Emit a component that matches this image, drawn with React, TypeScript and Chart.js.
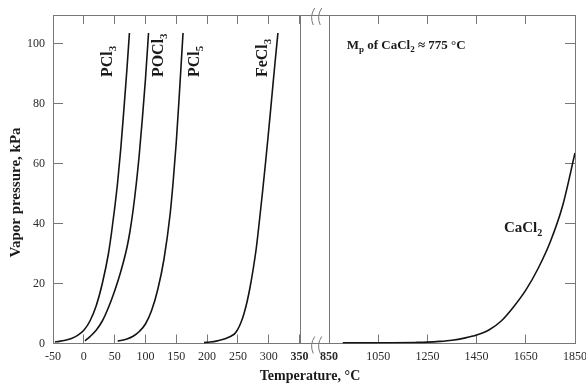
import { useEffect, useRef } from 'react';
import { Chart, registerables } from 'chart.js';

Chart.register(...registerables);

// ---- data (temperature °C, vapor pressure kPa) ----
const PCL3_T = [-47, -40, -30, -20, -10, 0, 10, 20, 30, 40, 45, 50, 55, 60, 65, 70, 74];
const PCL3_P = [0.5, 0.7, 1.1, 1.7, 2.7, 4.4, 7.5, 12.5, 20, 30, 37, 45, 54, 65, 78, 91.5, 103.5];

const POCL3_T = [2, 10, 20, 30, 40, 50, 60, 70, 75, 80, 85, 90, 95, 100, 105];
const POCL3_P = [0.9, 2.3, 4.4, 7.5, 12, 17.5, 24, 32, 37.5, 44.5, 53, 63, 75, 88, 103.5];

const PCL5_T = [55, 70, 80, 90, 100, 110, 120, 130, 140, 145, 150, 155, 161];
const PCL5_P = [0.8, 1.5, 2.4, 4, 6.5, 11, 18, 28, 43, 54, 67, 83, 103.5];

const FECL3_T = [195, 205, 215, 225, 235, 240, 245, 250, 255, 260, 265, 270, 275, 280, 285, 290, 295, 300, 305, 310, 315];
const FECL3_P = [0.3, 0.5, 0.8, 1.3, 2.1, 2.6, 3.3, 4.8, 7.0, 10, 14, 19, 25, 32, 41, 50.5, 60.5, 71, 82, 93, 103.5];

const CACL2_T = [906, 1000, 1100, 1200, 1250, 1300, 1350, 1400, 1450, 1500, 1550, 1600, 1650, 1700, 1750, 1800, 1850];
const CACL2_P = [0.2, 0.2, 0.25, 0.35, 0.45, 0.7, 1.1, 1.8, 2.8, 4.5, 7.5, 12.2, 17.8, 25, 34, 46, 63.5];

// axis ranges / ticks
const LEFT_RANGE = [-50, 350];
const LEFT_STEP = 50;
const RIGHT_RANGE = [850, 1850];
const RIGHT_STEP = 200;
const Y_RANGE = [0, 109.5];
const Y_STEP = 20;

const X_TITLE = 'Temperature, °C';
const Y_TITLE = 'Vapor pressure, kPa';

const SERIF = '"Liberation Serif", "Times New Roman", serif';
const AX = '#7a7672';
const INK = '#1a1a1a';

type Part = [string, boolean];

function drawRich(ctx: CanvasRenderingContext2D, parts: Part[], x: number, y: number, size: number, subSize: number, subDrop: number) {
  let cx = x;
  ctx.textAlign = 'left';
  ctx.textBaseline = 'alphabetic';
  for (const [t, sub] of parts) {
    ctx.font = `bold ${sub ? subSize : size}px ${SERIF}`;
    ctx.fillText(t, cx, sub ? y + subDrop : y);
    cx += ctx.measureText(t).width;
  }
}

const noPad = (s: any) => {
  s.paddingLeft = 0;
  s.paddingRight = 0;
  s.paddingTop = 0;
  s.paddingBottom = 0;
};

export default function App() {
  const ref = useRef<HTMLCanvasElement>(null);

  useEffect(() => {
    if (!ref.current) return;
    const toXY = (t: number[], p: number[]) => t.map((x, i) => ({ x, y: p[i] }));
    const line = (data: any[], xAxisID: string) => ({
      data,
      xAxisID,
      yAxisID: 'y',
      borderColor: '#141414',
      borderWidth: 1.6,
      pointRadius: 0,
      fill: false,
      cubicInterpolationMode: 'monotone' as const,
    });

    const tickFont = (boldVal: number) => (c: any) => ({
      family: SERIF,
      size: 12,
      weight: c.tick && c.tick.value === boldVal ? 'bold' : 'normal',
    });

    const xAxis = (range: number[], step: number, position: string, stackWeight: number, order: number, labels: boolean, boldVal: number) => ({
      type: 'linear',
      position,
      min: range[0],
      max: range[1],
      stack: position === 'bottom' ? 'sb' : 'st',
      stackWeight,
      weight: order,
      ticks: {
        display: labels,
        stepSize: step,
        autoSkip: false,
        maxRotation: 0,
        minRotation: 0,
        includeBounds: false,
        padding: 15,
        color: '#2a2a2a',
        font: tickFont(boldVal),
        callback: (v: any) => String(v),
      },
      grid: { drawOnChartArea: false, color: AX, tickLength: -9, lineWidth: 1 },
      border: { display: true, color: AX, width: 1 },
      afterFit: (s: any) => { s.height = position === 'bottom' ? 40.5 : 15; noPad(s); },
    });

    const gapAxis = (position: string, order: number) => ({
      type: 'linear',
      position,
      min: 0,
      max: 1,
      display: true,
      stack: position === 'bottom' ? 'sb' : 'st',
      stackWeight: 29.5,
      weight: order,
      ticks: { display: false },
      grid: { display: false, drawTicks: false },
      border: { display: true, color: AX, width: 1 },
      afterFit: (s: any) => { s.height = position === 'bottom' ? 40.5 : 15; noPad(s); },
    });

    const labelsPlugin = {
      id: 'annot',
      afterDraw(chart: any) {
        const { ctx, chartArea, scales } = chart;
        const xL = scales.xL, xR = scales.xR, y = scales.y;
        ctx.save();
        // inner panel borders
        ctx.strokeStyle = AX;
        ctx.lineWidth = 1;
        ctx.beginPath();
        const a = Math.round(xL.right) + 0.5;
        const b = Math.round(xR.left) + 0.5;
        ctx.moveTo(a, chartArea.top); ctx.lineTo(a, chartArea.bottom);
        ctx.moveTo(b, chartArea.top); ctx.lineTo(b, chartArea.bottom);
        ctx.stroke();

        // break marks
        const gx = (xL.right + xR.left) / 2 + 2;
        const brk = (cy: number) => {
          for (const dx of [-3.5, 3.5]) {
            ctx.beginPath();
            ctx.moveTo(gx + dx + 2, cy - 8);
            ctx.quadraticCurveTo(gx + dx - 3.5, cy, gx + dx + 0.5, cy + 9);
            ctx.stroke();
          }
        };
        brk(chartArea.top + 1);
        brk(chartArea.bottom + 1);

        ctx.fillStyle = INK;
        // axis titles
        ctx.font = `bold 15px ${SERIF}`;
        ctx.save();
        ctx.translate(16, 192.5);
        ctx.rotate(-Math.PI / 2);
        ctx.textAlign = 'center';
        ctx.textBaseline = 'middle';
        ctx.fillText(Y_TITLE, 0, 0);
        ctx.restore();

        ctx.font = `bold 14px ${SERIF}`;
        ctx.textAlign = 'center';
        ctx.textBaseline = 'alphabetic';
        ctx.fillText(X_TITLE, 310, 380);

        // rotated compound labels (anchored in data coordinates)
        const rot: [Part[], number][] = [
          [[['PCl', false], ['3', true]], 46.5],
          [[['POCl', false], ['3', true]], 127.7],
          [[['PCl', false], ['5', true]], 186.9],
          [[['FeCl', false], ['3', true]], 298],
        ];
        const py = y.getPixelForValue(88.8);
        for (const [parts, t] of rot) {
          const px = xL.getPixelForValue(t);
          ctx.save();
          ctx.translate(px, py);
          ctx.rotate(-Math.PI / 2);
          drawRich(ctx, parts, 0, 0, 16, 11, 4);
          ctx.restore();
        }

        drawRich(ctx, [['M', false], ['p', true], [' of CaCl', false], ['2', true], [' \u2248 775 \u00B0C', false]],
          xR.getPixelForValue(922), y.getPixelForValue(98.2), 13, 9, 3.5);
        drawRich(ctx, [['CaCl', false], ['2', true]],
          xR.getPixelForValue(1561), y.getPixelForValue(37.3), 15, 10, 4);
        ctx.restore();
      },
    };

    const chart = new Chart(ref.current, {
      type: 'line',
      data: {
        datasets: [
          line(toXY(PCL3_T, PCL3_P), 'xL'),
          line(toXY(POCL3_T, POCL3_P), 'xL'),
          line(toXY(PCL5_T, PCL5_P), 'xL'),
          line(toXY(FECL3_T, FECL3_P), 'xL'),
          line(toXY(CACL2_T, CACL2_P), 'xR'),
        ] as any,
      },
      options: {
        animation: false,
        responsive: false,
        events: [],
        layout: { padding: 0, autoPadding: false },
        plugins: { legend: { display: false }, tooltip: { enabled: false }, title: { display: false } },
        scales: {
          xL: xAxis(LEFT_RANGE, LEFT_STEP, 'bottom', 246.5, 1, true, 350),
          xGapB: gapAxis('bottom', 2),
          xR: xAxis(RIGHT_RANGE, RIGHT_STEP, 'bottom', 246, 3, true, 850),
          xLt: xAxis(LEFT_RANGE, LEFT_STEP, 'top', 246.5, 3, false, 350),
          xGapT: gapAxis('top', 2),
          xRt: xAxis(RIGHT_RANGE, RIGHT_STEP, 'top', 246, 1, false, 850),
          y: {
            type: 'linear',
            position: 'left',
            min: Y_RANGE[0],
            max: Y_RANGE[1],
            ticks: { stepSize: Y_STEP, includeBounds: false, padding: 18, color: '#2a2a2a', font: { family: SERIF, size: 12 } },
            grid: { drawOnChartArea: false, color: AX, tickLength: -10 },
            border: { display: true, color: AX, width: 1 },
            afterFit: (s: any) => { s.width = 53; noPad(s); },
          },
          y2: {
            type: 'linear',
            position: 'right',
            min: Y_RANGE[0],
            max: Y_RANGE[1],
            ticks: { display: false, stepSize: Y_STEP, includeBounds: false },
            grid: { drawOnChartArea: false, color: AX, tickLength: -10 },
            border: { display: true, color: AX, width: 1 },
            afterFit: (s: any) => { s.width = 15; noPad(s); },
          },
        } as any,
      },
      plugins: [labelsPlugin],
    });
    return () => chart.destroy();
  }, []);

  return (
    <div style={{ position: 'fixed', left: 0, top: 0, width: 586, height: 384, overflow: 'hidden', background: '#fff' }}>
      <div style={{ position: 'relative', width: 590, height: 384 }}>
        <canvas ref={ref} width={590} height={384} style={{ display: 'block' }} />
      </div>
    </div>
  );
}
